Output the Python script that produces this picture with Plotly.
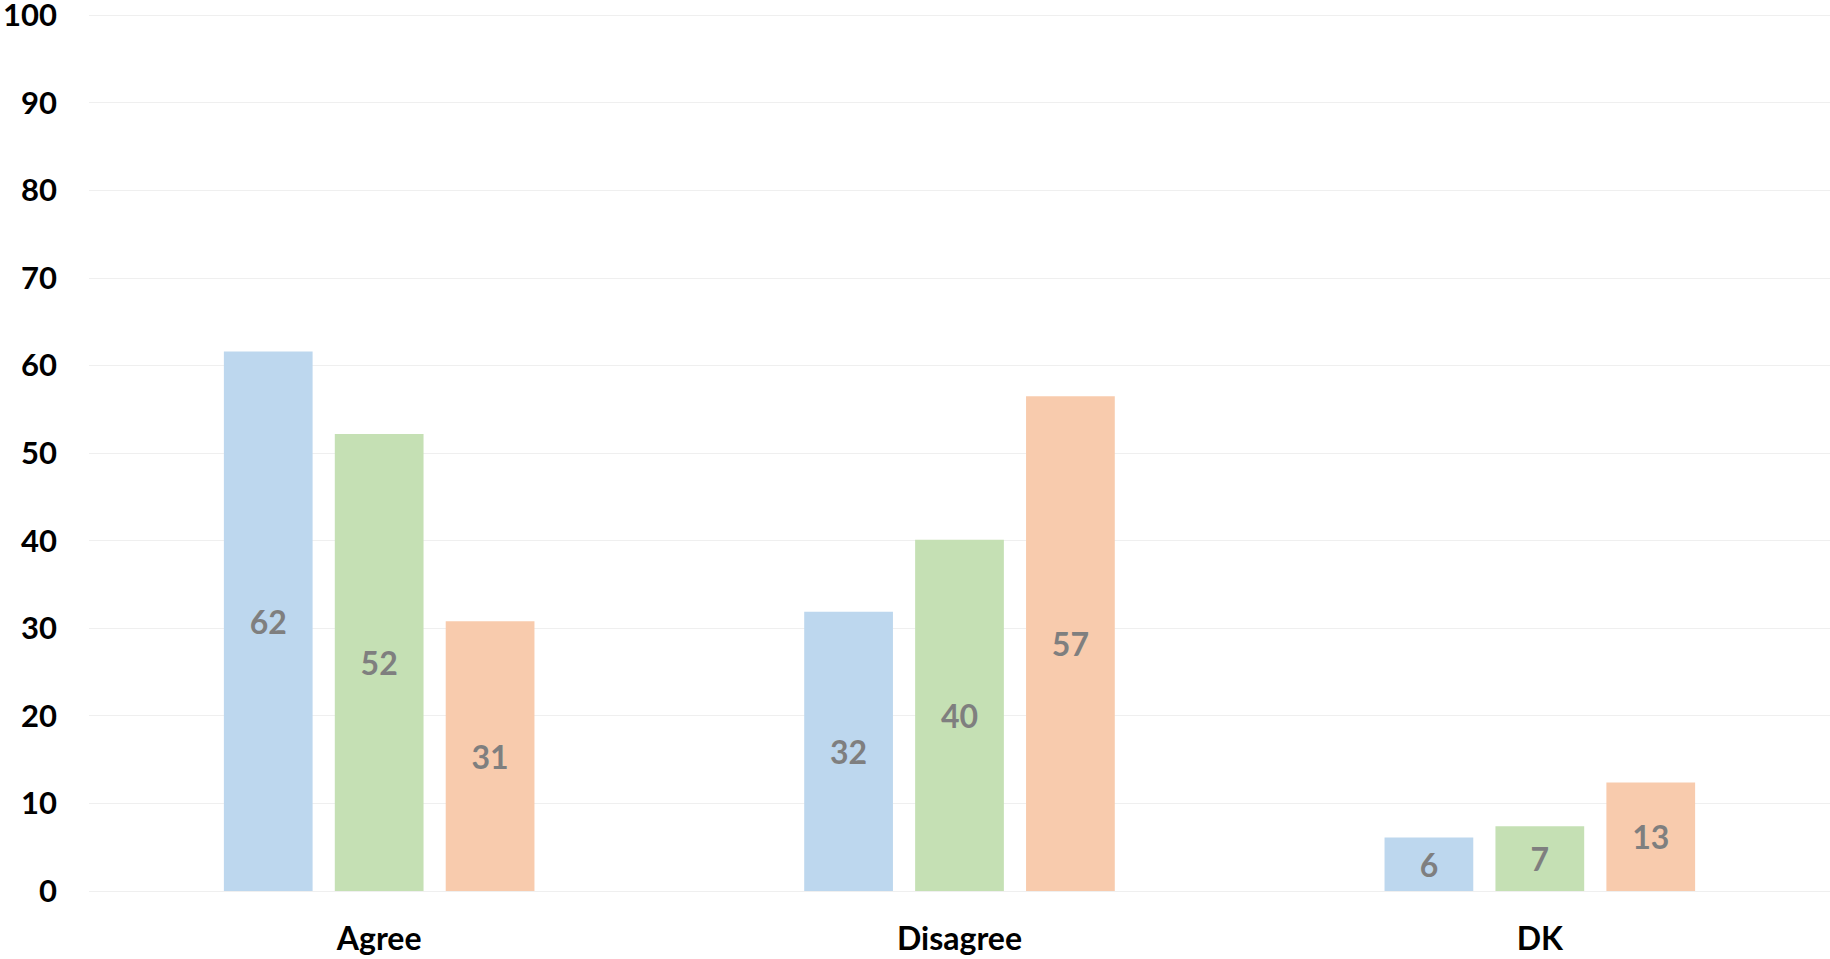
import plotly.graph_objects as go

categories = ["Agree", "Disagree", "DK"]
series1 = [61.6, 31.9, 6.1]
series2 = [52.2, 40.1, 7.4]
series3 = [30.8, 56.5, 12.4]
labels1 = ["62", "32", "6"]
labels2 = ["52", "40", "7"]
labels3 = ["31", "57", "13"]
colors = ["#BDD7EE", "#C5E0B4", "#F8CBAD"]
yticks = [0, 10, 20, 30, 40, 50, 60, 70, 80, 90, 100]

fig = go.Figure()
for vals, labs, col in [(series1, labels1, colors[0]), (series2, labels2, colors[1]), (series3, labels3, colors[2])]:
    fig.add_trace(go.Bar(
        x=categories, y=vals, text=labs, marker=dict(color=col, line=dict(width=0)),
        textposition="inside", insidetextanchor="middle", textangle=0,
        textfont=dict(family="Lato", size=32, color="#7F7F7F", weight="bold"),
        hoverinfo="skip", cliponaxis=False,
    ))

fig.update_layout(
    template="none",
    width=1830, height=959,
    margin=dict(l=89, r=0, t=14, b=68, autoexpand=False),
    paper_bgcolor="white", plot_bgcolor="white",
    barmode="group", bargap=0.4266, bargroupgap=0.2,
    showlegend=False,
    uniformtext=dict(minsize=32, mode="show"),
    font=dict(family="Lato", color="#000000"),
)
fig.update_yaxes(
    range=[0, 100.15], tickvals=yticks, ticktext=[str(v) for v in yticks],
    automargin=False, ticklabeloverflow="allow",
    showgrid=True, gridcolor="#EFEFEF", gridwidth=1,
    zeroline=True, zerolinecolor="#EFEFEF", zerolinewidth=1,
    showline=False, ticks="", ticklabelstandoff=31,
    tickfont=dict(family="Lato", size=31, color="#000000", weight="bold"),
)
fig.update_xaxes(
    automargin=False,
    showgrid=False, showline=False, ticks="", ticklabelstandoff=26,
    tickfont=dict(family="Lato", size=32, color="#000000", weight="bold"),
)

fig.write_html(
    "out.html",
    config={"displayModeBar": False},
    post_script="document.body.style.margin='0';document.body.style.overflow='hidden';",
)
